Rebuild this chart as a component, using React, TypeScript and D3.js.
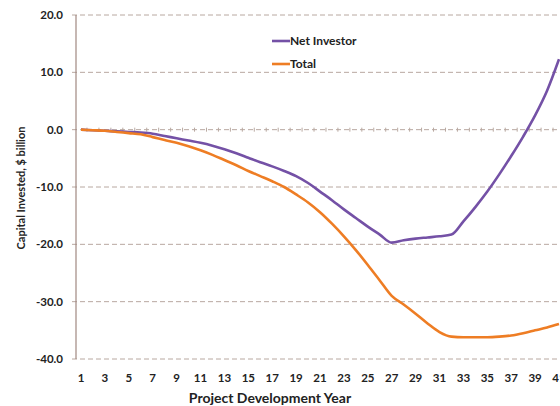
import React from "react";
import * as d3 from "d3";

const years = d3.range(1, 42);
const netInvestor = [
  0, -0.1, -0.2, -0.3, -0.4, -0.5, -0.7, -1.1, -1.5, -1.9,
  -2.3, -2.8, -3.4, -4.1, -4.9, -5.7, -6.4, -7.2, -8.1, -9.3,
  -10.8, -12.3, -13.9, -15.4, -16.9, -18.3, -19.7, -19.3, -19.0, -18.8,
  -18.6, -18.3, -16.0, -13.5, -10.8, -7.8, -4.6, -1.2, 2.5, 6.8, 12.3,
];
const total = [
  0, -0.1, -0.2, -0.4, -0.6, -0.8, -1.3, -1.8, -2.3, -2.9,
  -3.6, -4.4, -5.3, -6.2, -7.2, -8.1, -9.0, -10.0, -11.3, -12.7,
  -14.4, -16.4, -18.6, -21.0, -23.6, -26.3, -29.0, -30.5, -32.1, -33.8,
  -35.3, -36.1, -36.2, -36.2, -36.2, -36.1, -35.9, -35.5, -35.0, -34.5, -33.9,
];
const yTicks = [20, 10, 0, -10, -20, -30, -40];
const xTickLabels = years.filter((y) => y % 2 === 1);
const seriesNames = ["Net Investor", "Total"];
const colors = ["#7451a6", "#ee7d24"];

export default function App() {
  const W = 560;
  const H = 406;
  const x = d3.scaleLinear().domain([1, 41]).range([81, 559]);
  const y = d3.scaleLinear().domain([-40, 20]).range([359, 15]);
  const line = d3
    .line<number>()
    .x((_, i) => x(years[i]))
    .y((d) => y(d))
    .curve(d3.curveMonotoneX);
  const font = "Lato, 'Open Sans', sans-serif";
  const gridColor = "#b8a8a0";
  const series = [netInvestor, total];
  return (
    <svg
      width={W}
      height={H}
      style={{ position: "absolute", left: 0, top: 0, background: "#fff" }}
      fontFamily={font}
    >
      {yTicks.map((t) => (
        <g key={t}>
          <line
            x1={72}
            x2={W}
            y1={y(t)}
            y2={y(t)}
            stroke={gridColor}
            strokeWidth={1}
            strokeDasharray="5,3"
          />
          <text
            x={63}
            y={y(t)}
            dy="0.35em"
            textAnchor="end"
            fontSize={11.5}
            fontWeight="bold"
            fill="#222"
          >
            {t.toFixed(1)}
          </text>
        </g>
      ))}
      {years.map((yr) => (
        <line
          key={"tk" + yr}
          x1={x(yr) + x(1.5) - x(1)}
          x2={x(yr) + x(1.5) - x(1)}
          y1={y(0) - 2}
          y2={y(0) + 2}
          stroke={gridColor}
          strokeWidth={1}
        />
      ))}
      <line x1={76} x2={76} y1={y(20)} y2={y(-40)} stroke="#a08880" strokeWidth={1.2} />
      {series.map((s, i) => (
        <path
          key={seriesNames[i]}
          d={line(s) || ""}
          fill="none"
          stroke={colors[i]}
          strokeWidth={2.6}
          strokeLinejoin="round"
        />
      ))}
      {xTickLabels.map((yr) => (
        <text
          key={"xl" + yr}
          x={x(yr)}
          y={382}
          textAnchor="middle"
          fontSize={11.5}
          fontWeight="bold"
          fill="#222"
        >
          {yr}
        </text>
      ))}
      <text
        x={270}
        y={403}
        textAnchor="middle"
        fontSize={14}
        fontWeight="bold"
        fill="#222"
      >
        Project Development Year
      </text>
      <text
        transform="translate(25,188) rotate(-90)"
        textAnchor="middle"
        fontSize={11}
        fontWeight="bold"
        fill="#222"
      >
        Capital Invested, $ billion
      </text>
      {seriesNames.map((n, i) => (
        <g key={"lg" + n} transform={`translate(272,${41 + i * 23})`}>
          <line x1={0} x2={18} y1={0} y2={0} stroke={colors[i]} strokeWidth={2.6} />
          <text x={18} y={0} dy="0.35em" fontSize={12} fontWeight="bold" fill="#222">
            {n}
          </text>
        </g>
      ))}
    </svg>
  );
}
